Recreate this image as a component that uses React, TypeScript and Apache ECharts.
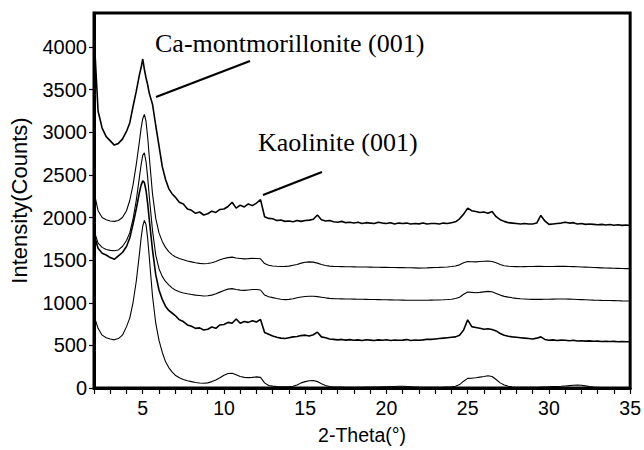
import React, { useEffect, useRef } from "react";
import * as echarts from "echarts";

// 2-Theta positions (degrees)
const twoTheta = [
  2.0, 2.25, 2.5, 2.75, 3.0, 3.25, 3.5, 3.75,
  4.0, 4.2, 4.4, 4.6, 4.8,
  4.9, 5.0, 5.1, 5.2, 5.3, 5.4,
  5.6, 5.8, 6.0, 6.2, 6.4, 6.6, 6.8,
  7.0, 7.25, 7.5, 7.75,
  8.0, 8.25, 8.5, 8.75,
  9.0, 9.25, 9.5, 9.75,
  10.0, 10.25, 10.5, 10.75,
  11.0, 11.25, 11.5, 11.75,
  12.0, 12.25, 12.5, 12.75,
  13.0, 13.25, 13.5, 13.75,
  14.0, 14.25, 14.5, 14.75,
  15.0, 15.25, 15.5, 15.75,
  16.0, 16.25, 16.5, 16.75,
  17.0, 17.25, 17.5, 17.75,
  18.0, 18.25, 18.5, 18.75,
  19.0, 19.25, 19.5, 19.75,
  20.0, 20.25, 20.5, 20.75,
  21.0, 21.25, 21.5, 21.75,
  22.0, 22.25, 22.5, 22.75,
  23.0, 23.25, 23.5, 23.75,
  24.0, 24.25, 24.5, 24.75,
  25.0, 25.25, 25.5, 25.75,
  26.0, 26.25, 26.5, 26.75,
  27.0, 27.25, 27.5, 27.75,
  28.0, 28.25, 28.5, 28.75,
  29.0, 29.25, 29.5, 29.75,
  30.0, 30.25, 30.5, 30.75,
  31.0, 31.25, 31.5, 31.75,
  32.0, 32.25, 32.5, 32.75,
  33.0, 33.25, 33.5, 33.75,
  34.0, 34.25, 34.5, 34.75,
  35.0,
];

// Sample traces, top to bottom (counts, with vertical offsets as plotted)
const trace1 = [
  4150, 3250, 3050, 2950, 2900, 2850, 2870, 2920,
  3010, 3110, 3300, 3480, 3680,
  3760, 3860, 3740, 3640, 3560, 3460,
  3330, 3080, 2840, 2600, 2450, 2340, 2280,
  2240, 2180, 2160, 2100,
  2085, 2050, 2065, 2030,
  2045, 2075, 2060, 2095,
  2100, 2130, 2180, 2110,
  2145, 2125, 2160, 2140,
  2170, 2210, 2010, 1990,
  1985, 1965, 1970, 1955,
  1960, 1950, 1965, 1955,
  1965, 1970, 1980, 2030,
  1975, 1960, 1965, 1950,
  1945, 1955, 1940, 1945,
  1935, 1945, 1930, 1940,
  1935, 1930, 1945, 1935,
  1930, 1940, 1925, 1935,
  1930, 1935, 1925, 1930,
  1926, 1935, 1925, 1930,
  1930, 1925, 1935, 1930,
  1940, 1950, 1985, 2040,
  2110, 2080, 2070, 2060,
  2065, 2050, 2070, 2010,
  1975, 1955, 1940, 1935,
  1930, 1925, 1930, 1925,
  1925, 1935, 2025, 1960,
  1920, 1925, 1930, 1935,
  1945, 1935, 1940, 1925,
  1930, 1920, 1925, 1920,
  1915, 1920, 1912, 1918,
  1910, 1915, 1908, 1912,
  1906,
];

const trace2 = [
  2300, 2080, 2000, 1975, 1960, 1955, 1965, 2000,
  2080, 2200, 2380, 2620, 2900,
  3050, 3160, 3210, 3130, 2950, 2720,
  2280, 1990, 1820, 1720, 1650, 1600, 1565,
  1540, 1520, 1505, 1490,
  1480, 1470, 1462, 1458,
  1460, 1470, 1485, 1505,
  1520, 1530, 1536, 1525,
  1520, 1515, 1518, 1522,
  1520, 1516, 1460, 1440,
  1432, 1428, 1425, 1427,
  1430, 1440, 1450, 1465,
  1475, 1480, 1477, 1465,
  1450, 1438, 1430, 1427,
  1425, 1424, 1423, 1422,
  1421, 1420, 1420, 1419,
  1418, 1417, 1416, 1415,
  1415, 1414, 1413, 1412,
  1412, 1411, 1411, 1410,
  1407, 1408, 1410, 1412,
  1414, 1415, 1417, 1420,
  1425, 1432, 1445, 1470,
  1485, 1482, 1480, 1485,
  1488, 1490, 1485, 1470,
  1450, 1435, 1428, 1425,
  1424, 1423, 1424, 1425,
  1426, 1427, 1427, 1426,
  1425, 1426, 1427, 1428,
  1427, 1425, 1424, 1422,
  1420, 1418, 1416, 1414,
  1412, 1410, 1408, 1407,
  1405, 1404, 1402, 1401,
  1400,
];

const trace3 = [
  1850, 1700, 1650, 1625, 1615, 1610, 1620, 1660,
  1730, 1820, 1980, 2200, 2480,
  2620, 2730, 2760, 2660, 2480, 2250,
  1850, 1560, 1400, 1310, 1250, 1210, 1175,
  1150, 1130, 1115, 1105,
  1098, 1090, 1085, 1080,
  1082, 1090, 1105, 1125,
  1145, 1160, 1166, 1155,
  1148, 1145, 1150, 1155,
  1156, 1150, 1090, 1070,
  1060, 1050, 1042, 1037,
  1040, 1048, 1058, 1068,
  1074, 1076, 1076, 1072,
  1065, 1058, 1052, 1049,
  1047, 1046, 1045, 1044,
  1043, 1042, 1041, 1040,
  1039, 1038, 1037, 1036,
  1035, 1034, 1033, 1032,
  1031, 1030, 1030, 1029,
  1029, 1030, 1030, 1031,
  1032, 1033, 1035, 1038,
  1042, 1050, 1065, 1100,
  1126, 1122, 1118, 1122,
  1128, 1134, 1130, 1110,
  1090, 1075, 1066, 1058,
  1052, 1048, 1045, 1042,
  1040, 1040, 1040, 1041,
  1042, 1043, 1044, 1045,
  1044, 1043, 1041, 1039,
  1037, 1035, 1033, 1031,
  1030, 1028, 1027, 1026,
  1025, 1024, 1022, 1021,
  1020,
];

const trace4 = [
  1800, 1640, 1580, 1560, 1530, 1510, 1550, 1590,
  1660, 1760, 1920, 2100, 2300,
  2380, 2430, 2410, 2320, 2170, 1980,
  1620, 1330, 1150, 1040, 960, 910, 880,
  850, 800, 780, 740,
  725, 700, 705, 680,
  690, 715, 700, 740,
  745, 770, 760, 810,
  760, 780, 770, 790,
  775, 805, 650, 630,
  610, 595, 585, 580,
  590, 600, 605, 615,
  620, 610, 625, 655,
  600, 590, 575, 570,
  565, 570, 562, 568,
  560, 565, 558, 566,
  562, 558, 565, 560,
  566, 558, 563, 560,
  562, 568, 558, 564,
  561, 565, 572, 570,
  575, 580, 585, 590,
  595, 600, 620, 680,
  800, 720, 710, 700,
  690, 695, 686, 670,
  640, 620, 608, 600,
  595, 590, 585, 580,
  575, 585, 600, 570,
  561, 565, 558, 562,
  560, 555, 560, 552,
  555, 550, 553, 548,
  550, 546, 549, 545,
  547, 543, 546, 542,
  542,
];

const trace5 = [
  850, 700, 620, 590, 575, 565, 580, 620,
  720, 820, 1000, 1250, 1580,
  1760, 1900, 1965, 1920, 1760, 1540,
  1080, 760, 560, 420, 310, 240, 190,
  150, 120, 100, 85,
  75, 65, 58, 55,
  60, 75, 95, 120,
  150, 170, 172, 155,
  135, 125, 122, 125,
  130, 125, 60, 30,
  22, 18, 15, 14,
  15, 20, 35, 60,
  75, 85, 88, 75,
  50, 30, 18, 12,
  10, 10, 9, 9,
  8, 8, 9, 10,
  10, 11, 12, 13,
  14, 16, 18, 20,
  20, 18, 15, 12,
  10, 9, 8, 8,
  8, 9, 10, 12,
  15, 20, 40, 80,
  113, 115, 120, 128,
  135, 144, 135, 100,
  60, 35, 20, 12,
  9, 8, 8, 8,
  8, 9, 10, 12,
  14, 16, 18, 20,
  24, 28, 32, 35,
  32, 25, 18, 12,
  8, 6, 5, 5,
  5, 4, 4, 4,
  4,
];

const traces = [trace1, trace2, trace3, trace4, trace5];
const traceWidths = [1.6, 1.1, 1.1, 1.6, 1.1];

const xTickLabels = ["5", "10", "15", "20", "25", "30", "35"];
const yTickLabels = ["0", "500", "1000", "1500", "2000", "2500", "3000", "3500", "4000"];

const annotationMont = "Ca-montmorillonite (001)";
const annotationKao = "Kaolinite (001)";

export default function App() {
  const ref = useRef<HTMLDivElement>(null);

  useEffect(() => {
    if (!ref.current) return;
    const chart = echarts.init(ref.current, null, { renderer: "svg" });
    const sans = "Liberation Sans, Arial, sans-serif";
    const serif = "Liberation Serif, Times New Roman, serif";

    chart.setOption({
      animation: false,
      backgroundColor: "#fff",
      grid: {
        left: 92,
        right: 13,
        top: 13,
        bottom: 61,
        show: true,
        borderColor: "#000",
        borderWidth: 3,
        backgroundColor: "transparent",
      },
      xAxis: {
        type: "value",
        min: 2,
        max: 35,
        interval: 1,
        name: "2-Theta(°)",
        nameLocation: "middle",
        nameGap: 37,
        nameTextStyle: { fontFamily: sans, fontSize: 19.5, color: "#000" },
        axisLine: { show: true, lineStyle: { color: "#000", width: 3 } },
        axisTick: { show: true, inside: false, length: 6, lineStyle: { color: "#000", width: 1.2 } },
        splitLine: { show: false },
        axisLabel: {
          fontFamily: sans,
          fontSize: 19.5,
          color: "#000",
          margin: 10,
          showMinLabel: true,
          showMaxLabel: true,
          formatter: (v: number) => (xTickLabels.includes(String(v)) ? String(v) : ""),
        },
      },
      yAxis: {
        type: "value",
        min: 0,
        max: 4400,
        interval: 500,
        name: "Intensity(Counts)",
        nameLocation: "middle",
        nameGap: 64,
        nameTextStyle: { fontFamily: sans, fontSize: 22, color: "#000" },
        axisLine: { show: true, lineStyle: { color: "#000", width: 3 } },
        axisTick: { show: true, inside: false, length: 5, lineStyle: { color: "#000", width: 1.2 } },
        splitLine: { show: false },
        axisLabel: {
          fontFamily: sans,
          fontSize: 20,
          color: "#000",
          margin: 7,
          showMaxLabel: false,
          formatter: (v: number) => (yTickLabels.includes(String(v)) ? String(v) : ""),
        },
      },
      series: traces.map((vals, k) => ({
        type: "line",
        data: twoTheta.map((x, i) => [x, vals[i]]),
        showSymbol: false,
        symbol: "none",
        smooth: false,
        clip: true,
        lineStyle: { color: "#000", width: traceWidths[k] },
        z: 3,
      })),
      graphic: [
        {
          type: "text",
          left: 155,
          top: 30,
          style: { text: annotationMont, font: `26px ${serif}`, fill: "#000" },
          z: 10,
        },
        {
          type: "line",
          shape: { x1: 156, y1: 97, x2: 250, y2: 61 },
          style: { stroke: "#000", lineWidth: 2.2 },
          z: 10,
        },
        {
          type: "text",
          left: 258,
          top: 129,
          style: { text: annotationKao, font: `26px ${serif}`, fill: "#000" },
          z: 10,
        },
        {
          type: "line",
          shape: { x1: 263, y1: 195, x2: 322, y2: 172 },
          style: { stroke: "#000", lineWidth: 2.2 },
          z: 10,
        },
      ],
    });

    return () => chart.dispose();
  }, []);

  return <div ref={ref} style={{ width: 644, height: 450, position: "absolute", left: 0, top: 0 }} />;
}
